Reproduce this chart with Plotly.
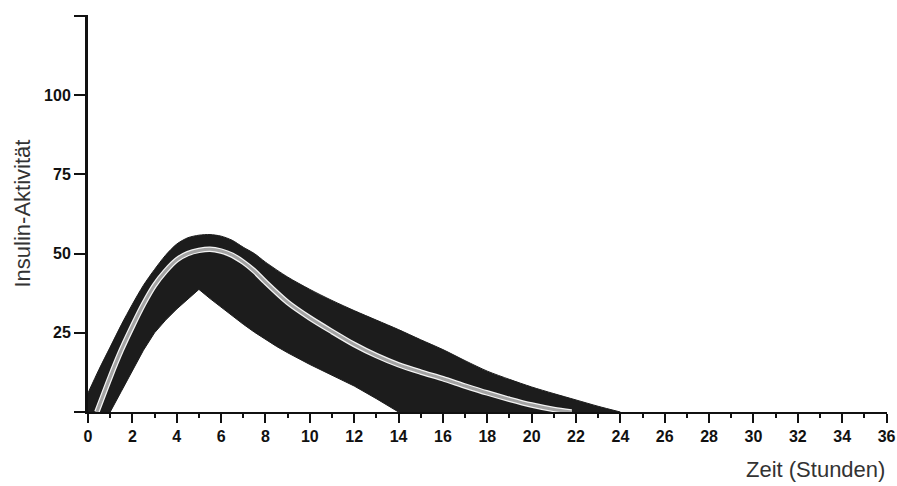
import plotly.graph_objects as go

# Data
upper_x = [0, 0.5, 1, 1.5, 2, 2.5, 3, 3.5, 4, 4.5, 5, 5.5, 6, 6.5, 7, 7.5, 8, 9, 10, 11, 12, 13, 14, 15, 16, 17, 18, 19, 20, 21, 22, 23, 24]
upper_y = [6, 13.5, 20.5, 27.5, 34, 40, 45, 49.5, 53, 55, 55.8, 56, 55.5, 54.2, 52, 50, 47.3, 42.6, 38.7, 35.2, 32, 29, 26, 22.8, 19.7, 16.2, 12.9, 10.3, 7.9, 5.8, 3.8, 1.8, 0]

lower_x = [0, 1, 1.5, 2, 2.5, 3, 3.5, 4, 4.5, 5, 5.5, 6, 6.5, 7, 7.5, 8, 8.5, 9, 9.5, 10, 11, 12, 13, 14]
lower_y = [0, 0, 6.5, 13, 19.5, 25, 29, 32.5, 35.7, 38.7, 35.8, 33, 30.3, 27.7, 25.2, 22.9, 20.7, 18.7, 16.8, 15, 11.6, 8.2, 4.2, 0]

mid_x = [0.4, 1, 1.5, 2, 2.5, 3, 3.5, 4, 4.5, 5, 5.5, 6, 6.5, 7, 7.5, 8, 9, 10, 11, 12, 13, 14, 15, 16, 17, 18, 19, 20, 21, 21.8]
mid_y = [0, 11, 19.5, 27, 34, 40, 44.5, 48, 50, 51, 51.4, 50.8, 49.5, 47.3, 44.5, 41, 34.6, 29.7, 25.4, 21.3, 17.8, 14.9, 12.6, 10.5, 8.2, 6, 4, 2.2, 0.8, 0]

x_ticks = list(range(0, 37, 2))
x_tick_labels = [str(v) for v in x_ticks]
y_ticks = [0, 25, 50, 75, 100, 125]
y_tick_labels = ["", "25", "50", "75", "100", ""]

INK = "#1c1c1c"

fig = go.Figure()
fig.add_trace(go.Scatter(
    x=lower_x, y=lower_y, mode="lines",
    line=dict(color=INK, width=1),
    hoverinfo="skip", showlegend=False))
fig.add_trace(go.Scatter(
    x=upper_x, y=upper_y, mode="lines", fill="tonexty", fillcolor=INK,
    line=dict(color=INK, width=1, shape="spline", smoothing=0.8),
    hoverinfo="skip", showlegend=False))
fig.add_trace(go.Scatter(
    x=mid_x, y=mid_y, mode="lines",
    line=dict(color="#f4f4f4", width=5.5, shape="spline", smoothing=0.8),
    hoverinfo="skip", showlegend=False))
fig.add_trace(go.Scatter(
    x=mid_x, y=mid_y, mode="lines",
    line=dict(color="#a4a4a4", width=3, shape="spline", smoothing=0.8),
    showlegend=False))

tick_font = dict(family="Liberation Sans, Arial", size=16, color="#111111", weight="bold")

fig.update_layout(
    width=897, height=486,
    margin=dict(l=88, r=10, t=15, b=74, autoexpand=False),
    paper_bgcolor="white", plot_bgcolor="white",
    xaxis=dict(
        range=[0, 36.02], tickvals=x_ticks, ticktext=x_tick_labels,
        ticks="outside", ticklen=9, tickwidth=2, tickcolor="#111111",
        showline=True, linecolor="#111111", linewidth=2, automargin=False,
        showgrid=False, zeroline=False, tickfont=tick_font,
        minor=dict(dtick=1, ticks="outside", ticklen=4, tickwidth=2, tickcolor="#111111"),
    ),
    yaxis=dict(
        range=[0, 125.3], tickvals=y_ticks, ticktext=y_tick_labels,
        ticks="outside", ticklen=11, tickwidth=2, tickcolor="#111111",
        showline=True, linecolor="#111111", linewidth=3, automargin=False,
        showgrid=False, zeroline=False, tickfont=tick_font,
    ),
    annotations=[
        dict(text="Insulin-Aktivität", textangle=-90, xref="paper", yref="paper",
             x=-66/799, y=0.5, xanchor="center", yanchor="middle", showarrow=False,
             font=dict(family="Liberation Sans, Arial", size=22, color="#333333")),
        dict(text="Zeit (Stunden)", xref="paper", yref="paper",
             x=1.0, y=-58/397, xanchor="right", yanchor="middle", showarrow=False,
             font=dict(family="Liberation Sans, Arial", size=22, color="#333333")),
    ],
)

fig.write_html(
    "out.html",
    config={"displayModeBar": False},
    post_script="document.body.style.margin='0';document.body.style.padding='0';"
                "document.documentElement.style.overflow='hidden';",
)
